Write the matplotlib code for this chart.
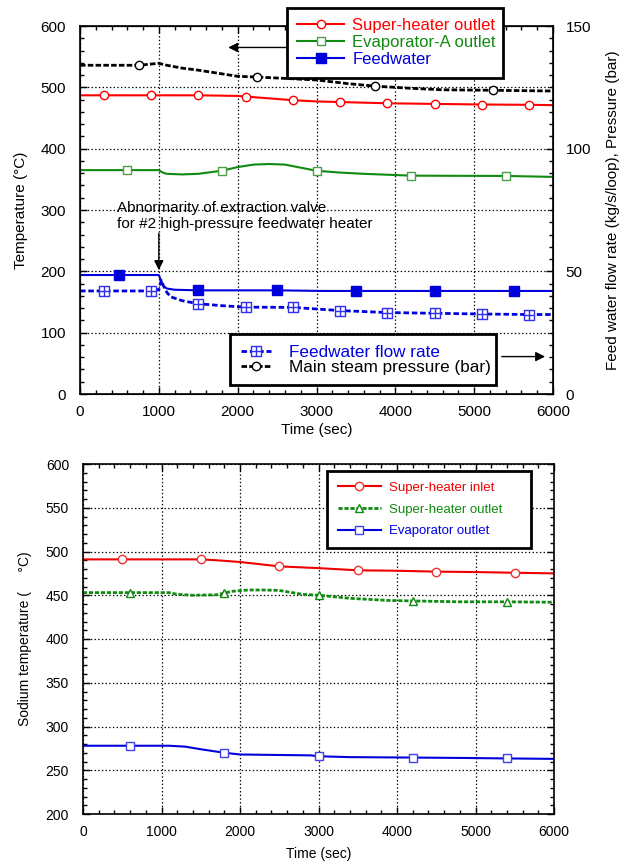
import numpy as np
import matplotlib
matplotlib.use("Agg")
import matplotlib.pyplot as plt
from matplotlib.path import Path

plt.rcParams['font.family'] = ['Liberation Sans', 'DejaVu Sans']
plt.rcParams['lines.scale_dashes'] = False

# -------------------------
# top chart data (water / steam side)
# -------------------------
sh_out_t = [0, 300, 900, 1500, 2000, 2100, 2500, 2700, 3000, 3300, 3900, 4500, 5100, 5700, 6000]
sh_out_v = [487, 487, 487, 487, 486, 485, 481, 479, 477, 476, 474, 473, 472, 471.5, 471]
sh_out_mk = [300, 900, 1500, 2100, 2700, 3300, 3900, 4500, 5100, 5700]

evA_t = [0, 600, 1000, 1050, 1100, 1300, 1500, 1800, 2000, 2200, 2400, 2600, 2800, 3000, 3300, 3600, 4200, 5400, 6000]
evA_v = [365, 365, 365, 361, 359, 358, 359, 364, 370, 374, 375, 374, 369, 364, 361, 359, 356, 355.5, 354]
evA_mk = [600, 1800, 3000, 4200, 5400]

fw_t = [0, 500, 1000, 1030, 1060, 1100, 1200, 1500, 2500, 3100, 3500, 4500, 5500, 6000]
fw_v = [194, 194, 194, 184, 176, 172, 170, 169, 169, 168, 168, 168, 168, 168]
fw_mk = [500, 1500, 2500, 3500, 4500, 5500]

flow_t = [0, 300, 900, 1000, 1030, 1060, 1100, 1150, 1300, 1500, 1800, 2100, 2700, 3300, 3900, 4500, 5100, 5700, 6000]
flow_v = [42, 42, 42, 42.5, 46.3, 44, 41.5, 39.6, 38, 36.8, 36, 35.4, 35.3, 34, 33.2, 32.9, 32.6, 32.4, 32.4]
flow_mk = [300, 900, 1500, 2100, 2700, 3300, 3900, 4500, 5100, 5700]

pres_t = [0, 750, 1000, 1100, 1300, 1500, 1800, 2000, 2245, 2500, 3000, 3400, 3740, 4200, 4600, 5235, 6000]
pres_v = [134, 134, 134.8, 134, 132.8, 132, 130.5, 129.5, 129.2, 128.8, 128, 126.5, 125.5, 124.6, 124, 123.8, 123.5]
pres_mk = [750, 2245, 3740, 5235]

# -------------------------
# bottom chart data (sodium side)
# -------------------------
na_in_t = [0, 500, 1500, 1700, 2000, 2500, 3000, 3500, 4000, 4500, 5000, 5500, 6000]
na_in_v = [491, 491, 491, 490, 488, 483, 481, 478.5, 478, 477, 476.5, 475.7, 475]
na_in_mk = [500, 1500, 2500, 3500, 4500, 5500]

na_out_t = [0, 600, 1100, 1200, 1400, 1700, 1800, 1900, 2100, 2300, 2500, 2600, 2800, 3000, 3400, 3900, 4200, 4800, 5400, 6000]
na_out_v = [453, 453, 453, 451, 450, 450.5, 452.5, 454.5, 456, 456, 455.5, 454, 451, 450, 446.5, 444, 443.5, 442.5, 442.5, 442]
na_out_mk = [600, 1800, 3000, 4200, 5400]

na_ev_t = [0, 600, 1100, 1300, 1500, 1800, 2000, 2900, 3000, 3400, 4200, 4900, 5400, 6000]
na_ev_v = [278, 278, 278, 277, 274, 270, 268, 267, 266, 265, 264.5, 264, 263.5, 263]
na_ev_mk = [600, 1800, 3000, 4200, 5400]

RED = '#ff0000'
GREEN = '#108a10'
BLUE = '#0000dd'


def marks(t, mk):
    return list(np.nonzero(np.isin(t, mk))[0])


def fig_box(x0, y0, x1):
    # legend anchor box in figure pixels (top-left corner, right edge)
    return (x0 / 628, 1 - y0 / 866 - 0.001, (x1 - x0) / 628, 0.001)


ARROW = dict(arrowstyle='-|>', color='black', lw=1, mutation_scale=14, shrinkA=0, shrinkB=0)

# square with a cross inside, for the flow rate marker
box_plus = Path([(-1, -1), (1, -1), (1, 1), (-1, 1), (-1, -1), (0, -1), (0, 1), (-1, 0), (1, 0)],
                [Path.MOVETO, Path.LINETO, Path.LINETO, Path.LINETO, Path.CLOSEPOLY,
                 Path.MOVETO, Path.LINETO, Path.MOVETO, Path.LINETO])

fig = plt.figure(figsize=(6.28, 8.66), dpi=100)
ax = fig.add_axes([80 / 628, 1 - 394 / 866, 473 / 628, 368 / 866])
ax2 = ax.twinx()
bx = fig.add_axes([83 / 628, 1 - 814 / 866, 471 / 628, 350 / 866])

# -------------------------
# top chart
# -------------------------
l1, = ax.plot(sh_out_t, sh_out_v, color=RED, lw=1.5, marker='o', ms=6, mfc='white', mec=RED,
              markevery=marks(sh_out_t, sh_out_mk), label='Super-heater outlet')
l2, = ax.plot(evA_t, evA_v, color=GREEN, lw=1.5, marker='s', ms=6, mfc='white', mec='#4aa04a',
              markevery=marks(evA_t, evA_mk), label='Evaporator-A outlet')
l3, = ax.plot(fw_t, fw_v, color=BLUE, lw=1.5, marker='s', ms=6.5, mfc=BLUE, mec=BLUE,
              markevery=marks(fw_t, fw_mk), label='Feedwater')
l4, = ax2.plot(flow_t, flow_v, color=BLUE, lw=2, ls=(0, (4, 2)), marker=box_plus, ms=7, mfc='white',
               mec='#3030ee', mew=1, markevery=marks(flow_t, flow_mk), label='Feedwater flow rate')
l5, = ax2.plot(pres_t, pres_v, color='black', lw=2, ls=(0, (4, 1.6)), marker='o', ms=6, mfc='white',
               mec='black', mew=1, markevery=marks(pres_t, pres_mk), label='Main steam pressure (bar)')

ax.set_xlim(0, 6000)
ax.set_ylim(0, 600)
ax2.set_ylim(0, 150)
ax.set_xticks(np.arange(0, 6001, 1000))
ax.set_xticks(np.arange(0, 6001, 200), minor=True)
ax.set_yticks(np.arange(0, 601, 100))
ax.set_yticks(np.arange(0, 601, 20), minor=True)
ax2.set_yticks([0, 50, 100, 150])
ax2.set_yticks(np.arange(0, 151, 5), minor=True)
ax.grid(True, which='major', ls=':', color='black', lw=0.9)
ax.tick_params(which='both', direction='in', top=True, right=False, labelsize=11, width=1)
ax.tick_params(which='major', length=5)
ax.tick_params(which='minor', length=3)
ax.tick_params(axis='y', which='major', pad=10)
ax.tick_params(axis='x', which='major', pad=8)
ax2.tick_params(which='both', direction='in', labelsize=11, width=1)
ax2.tick_params(which='major', length=5, pad=9)
ax2.tick_params(which='minor', length=3)
for s in ax.spines.values():
    s.set_linewidth(1.2)
ax.set_xlabel('Time (sec)', fontsize=11, labelpad=3)
ax.set_ylabel('Temperature (°C)', fontsize=11, labelpad=9)
ax2.set_ylabel('Feed water flow rate (kg/s/loop), Pressure (bar)', fontsize=11, labelpad=11)

ax.text(465, 290, 'Abnormarity of extraction valve\nfor #2 high-pressure feedwater heater',
        fontsize=11, ha='left', va='center', linespacing=1.2)
ax.annotate('', xy=(1000, 202), xytext=(1000, 262), arrowprops=ARROW)
ax.annotate('', xy=(1880, 565), xytext=(2620, 565), arrowprops=ARROW)
ax.annotate('', xy=(5900, 61), xytext=(5350, 61), arrowprops=ARROW)

leg1 = ax2.legend(handles=[l1, l2, l3], loc='upper left', bbox_to_anchor=fig_box(287, 8, 503),
                  bbox_transform=fig.transFigure, mode='expand', borderaxespad=0, fontsize=12,
                  labelcolor='linecolor', handlelength=2.8, handletextpad=0.5, labelspacing=0.12,
                  borderpad=0.62, fancybox=False, framealpha=1, edgecolor='black')
leg1.get_frame().set_linewidth(2)
ax2.add_artist(leg1)
leg2 = ax2.legend(handles=[l4, l5], loc='upper left', bbox_to_anchor=fig_box(230, 334, 496),
                  bbox_transform=fig.transFigure, mode='expand', borderaxespad=0, fontsize=12.3,
                  labelcolor=[BLUE, 'black'], handlelength=1.8, handletextpad=1.05, labelspacing=0.0,
                  borderpad=0.62, fancybox=False, framealpha=1, edgecolor='black')
leg2.get_frame().set_linewidth(2)

# -------------------------
# bottom chart
# -------------------------
m1, = bx.plot(na_in_t, na_in_v, color='#ee0000', lw=1.5, marker='o', ms=6, mfc='white', mec='#ee3333',
              markevery=marks(na_in_t, na_in_mk), label='Super-heater inlet')
m2, = bx.plot(na_out_t, na_out_v, color=GREEN, lw=2, ls=(0, (3, 1.3)), marker='^', ms=6, mfc='white',
              mec=GREEN, mew=1, markevery=marks(na_out_t, na_out_mk), label='Super-heater outlet')
m3, = bx.plot(na_ev_t, na_ev_v, color=BLUE, lw=1.5, marker='s', ms=6, mfc='white', mec='#4040ee',
              markevery=marks(na_ev_t, na_ev_mk), label='Evaporator outlet')

bx.set_xlim(0, 6000)
bx.set_ylim(200, 600)
bx.set_xticks(np.arange(0, 6001, 1000))
bx.set_xticks(np.arange(0, 6001, 200), minor=True)
bx.set_yticks(np.arange(200, 601, 50))
bx.set_yticks(np.arange(200, 601, 10), minor=True)
bx.grid(True, which='major', ls=':', color='black', lw=0.9)
bx.tick_params(which='both', direction='in', top=True, right=True, labelsize=10, width=1)
bx.tick_params(which='major', length=5)
bx.tick_params(which='minor', length=3)
bx.tick_params(axis='y', which='major', pad=10)
bx.tick_params(axis='x', which='major', pad=8)
for s in bx.spines.values():
    s.set_linewidth(1.2)
bx.set_xlabel('Time (sec)', fontsize=10, labelpad=6)
bx.set_ylabel('Sodium temperature (     °C)', fontsize=10, labelpad=10)

leg3 = bx.legend(loc='upper left', bbox_to_anchor=fig_box(327, 471, 531),
                 bbox_transform=fig.transFigure, mode='expand', borderaxespad=0, fontsize=9.5,
                 labelcolor='linecolor', handlelength=3.3, handletextpad=0.6, labelspacing=0.72,
                 borderpad=0.8, fancybox=False, framealpha=1, edgecolor='black')
leg3.get_frame().set_linewidth(2)

fig.savefig('out.png', dpi=100)
